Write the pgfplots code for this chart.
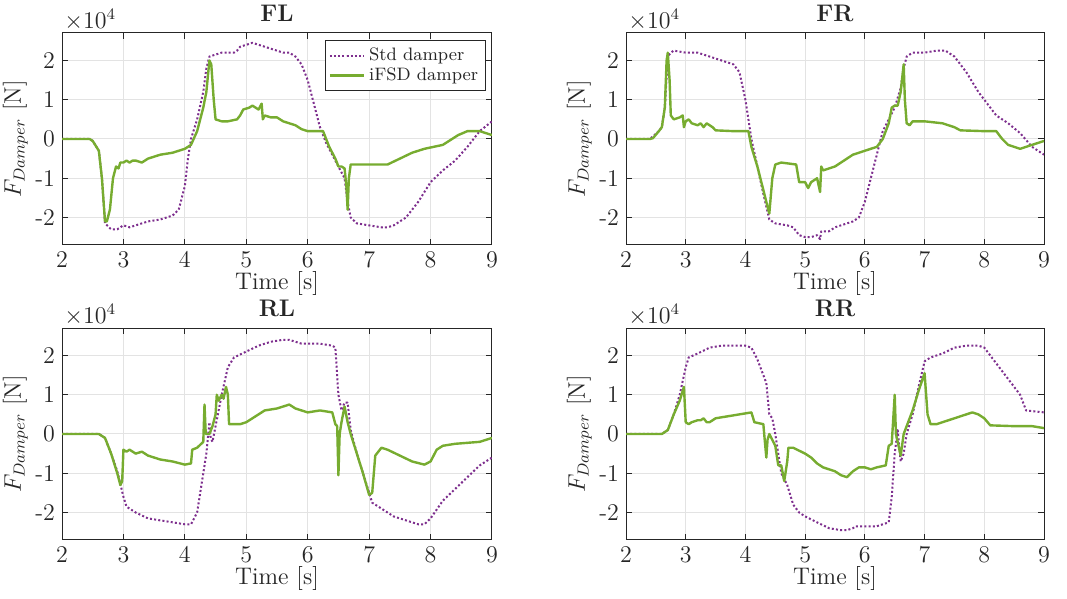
\documentclass[border=0pt]{standalone}
\usepackage{pgfplots}
\pgfplotsset{compat=1.18}
\definecolor{mpurple}{HTML}{7E2F8E}
\definecolor{mgreen}{HTML}{77AC30}
\definecolor{gridc}{HTML}{E3E3E3}
\definecolor{axc}{HTML}{262626}
\pgfplotsset{
  dstyle/.style={
    scale only axis, anchor=north west, height=106pt,
    xmin=2, xmax=9, ymin=-2.7, ymax=2.7,
    xtick={2,3,4,5,6,7,8,9},
    ytick={-2,-1,0,1,2}, yticklabels={{-2},{-1},0,1,2},
    grid=major, major grid style={gridc, line width=0.5pt},
    axis line style={axc, line width=0.5pt},
    tick style={axc, line width=0.5pt},
    tick align=inside, major tick length=3pt,
    ticklabel style={text=axc, font=\large},
    xlabel={Time [s]}, ylabel={$F_{Damper}$ [N]},
    label style={font=\large},
    xlabel style={text=axc, yshift=5pt},
    ylabel style={text=axc, yshift=-3pt},
    title style={text=axc, font=\large\bfseries, yshift=-4pt},
    clip mode=individual,
  },
  stdp/.style={mpurple, line width=1pt, dash pattern=on 1pt off 1.1pt, line join=round},
  ifsd/.style={mgreen, line width=1.2pt, line join=round},
}
\newcommand{\xten}{\node[anchor=south west, text=axc, inner sep=1pt, font=\large] at (rel axis cs:0,1) {$\times10^4$};}
\begin{document}
\begin{tikzpicture}
% ---------------- FL ----------------
\begin{axis}[dstyle, at={(31pt,-16.5pt)}, width=215pt, title={FL},
  legend style={at={(rel axis cs:0.985,0.965)}, anchor=north east, draw=axc, font=\small, text=axc, row sep=-2pt, inner sep=1.5pt},
  legend cell align=left]
\addplot[stdp] coordinates {
(2,0)(2.45,0)(2.5,-0.05)(2.6,-0.3)(2.65,-1.0)(2.7,-2.15)(2.8,-2.3)(2.9,-2.3)(3.0,-2.2)(3.1,-2.25)(3.2,-2.2)(3.4,-2.1)(3.6,-2.05)(3.8,-1.95)(3.9,-1.8)(4.0,-1.2)(4.05,-0.5)(4.1,0.0)(4.2,0.5)(4.3,1.2)(4.35,1.8)(4.4,2.1)(4.5,2.15)(4.6,2.2)(4.8,2.2)(4.85,2.25)(4.9,2.35)(5.0,2.4)(5.1,2.45)(5.2,2.4)(5.3,2.35)(5.4,2.3)(5.5,2.25)(5.6,2.2)(5.7,2.2)(5.8,2.1)(5.9,1.9)(6.0,1.5)(6.1,0.9)(6.2,0.3)(6.3,-0.1)(6.4,-0.4)(6.5,-0.7)(6.6,-1.0)(6.65,-1.6)(6.7,-2.0)(6.8,-2.15)(7.0,-2.2)(7.2,-2.25)(7.3,-2.25)(7.4,-2.2)(7.6,-2.0)(7.8,-1.6)(8.0,-1.1)(8.2,-0.8)(8.4,-0.55)(8.6,-0.2)(8.8,0.2)(9.0,0.45)};
\addlegendentry{Std damper}
\addplot[ifsd] coordinates {
(2,0)(2.45,0)(2.5,-0.05)(2.6,-0.3)(2.65,-1.0)(2.7,-2.1)(2.73,-2.1)(2.78,-1.8)(2.83,-1.0)(2.88,-0.7)(2.92,-0.75)(2.95,-0.6)(3.0,-0.6)(3.05,-0.55)(3.1,-0.6)(3.15,-0.55)(3.2,-0.55)(3.3,-0.6)(3.4,-0.5)(3.5,-0.45)(3.6,-0.4)(3.8,-0.35)(4.0,-0.25)(4.1,-0.15)(4.2,0.2)(4.3,0.8)(4.35,1.2)(4.4,2.0)(4.43,1.9)(4.47,1.0)(4.5,0.5)(4.6,0.45)(4.7,0.45)(4.85,0.5)(4.9,0.6)(4.95,0.75)(5.05,0.8)(5.1,0.85)(5.2,0.75)(5.25,0.9)(5.27,0.5)(5.3,0.6)(5.4,0.55)(5.5,0.55)(5.6,0.45)(5.7,0.4)(5.8,0.35)(5.9,0.25)(6.0,0.2)(6.25,0.2)(6.35,-0.2)(6.45,-0.5)(6.5,-0.7)(6.55,-0.7)(6.6,-0.75)(6.63,-1.2)(6.65,-1.8)(6.67,-1.0)(6.7,-0.65)(6.8,-0.65)(7.0,-0.65)(7.3,-0.65)(7.5,-0.5)(7.7,-0.35)(7.9,-0.25)(8.2,-0.15)(8.3,-0.05)(8.45,0.1)(8.6,0.2)(8.8,0.2)(9.0,0.1)};
\addlegendentry{iFSD damper}
\xten
\end{axis}
% ---------------- FR ----------------
\begin{axis}[dstyle, at={(313pt,-16.5pt)}, width=209pt, title={FR}]
\addplot[stdp] coordinates {
(2,0)(2.4,0)(2.55,0.2)(2.6,0.3)(2.65,0.8)(2.7,2.1)(2.75,2.2)(2.8,2.25)(3.0,2.2)(3.2,2.2)(3.3,2.15)(3.4,2.1)(3.6,2.0)(3.8,1.9)(3.9,1.7)(4.0,1.0)(4.1,0.0)(4.2,-0.7)(4.3,-1.4)(4.4,-2.05)(4.5,-2.15)(4.7,-2.2)(4.8,-2.25)(4.9,-2.45)(5.0,-2.5)(5.1,-2.5)(5.2,-2.45)(5.25,-2.55)(5.27,-2.35)(5.4,-2.35)(5.5,-2.25)(5.6,-2.2)(5.8,-2.1)(5.9,-2.0)(6.0,-1.6)(6.1,-1.0)(6.2,-0.4)(6.3,0.2)(6.4,0.5)(6.5,0.8)(6.6,1.3)(6.65,1.8)(6.7,2.1)(6.8,2.2)(7.0,2.2)(7.2,2.25)(7.35,2.25)(7.5,2.1)(7.7,1.7)(7.9,1.2)(8.1,0.8)(8.2,0.6)(8.4,0.4)(8.6,0.15)(8.8,-0.2)(9.0,-0.4)};
\addplot[ifsd] coordinates {
(2,0)(2.4,0)(2.45,0.02)(2.55,0.2)(2.6,0.3)(2.65,0.8)(2.68,2.0)(2.7,2.2)(2.73,1.5)(2.75,0.6)(2.8,0.5)(2.9,0.55)(2.95,0.6)(2.97,0.3)(3.0,0.45)(3.05,0.5)(3.1,0.4)(3.2,0.35)(3.25,0.4)(3.3,0.3)(3.35,0.4)(3.45,0.3)(3.5,0.22)(3.8,0.2)(4.05,0.2)(4.1,-0.2)(4.2,-0.7)(4.3,-1.3)(4.4,-1.9)(4.45,-1.0)(4.5,-0.65)(4.6,-0.6)(4.85,-0.65)(4.9,-1.1)(5.0,-1.1)(5.05,-1.25)(5.1,-1.1)(5.2,-1.0)(5.25,-1.35)(5.27,-0.7)(5.3,-0.8)(5.4,-0.75)(5.5,-0.7)(5.6,-0.6)(5.7,-0.5)(5.8,-0.4)(5.9,-0.35)(6.0,-0.3)(6.2,-0.2)(6.3,0.0)(6.4,0.4)(6.45,0.8)(6.5,0.85)(6.55,0.85)(6.6,1.2)(6.65,1.9)(6.67,1.0)(6.7,0.4)(6.75,0.35)(6.8,0.45)(7.0,0.45)(7.3,0.4)(7.5,0.3)(7.6,0.22)(8.0,0.2)(8.2,0.2)(8.3,0.0)(8.4,-0.15)(8.6,-0.25)(8.8,-0.15)(9.0,-0.05)};
\xten
\end{axis}
% ---------------- RL ----------------
\begin{axis}[dstyle, at={(31pt,-164pt)}, width=215pt, title={RL}]
\addplot[stdp] coordinates {
(2,0)(2.6,0)(2.7,-0.1)(2.8,-0.5)(2.9,-0.95)(3.0,-1.6)(3.05,-1.85)(3.2,-2.0)(3.4,-2.15)(3.6,-2.2)(3.8,-2.25)(4.0,-2.3)(4.1,-2.3)(4.2,-2.0)(4.25,-1.5)(4.3,-1.0)(4.35,-0.5)(4.4,0.3)(4.42,-0.1)(4.45,-0.2)(4.5,0.2)(4.6,1.0)(4.7,1.7)(4.8,1.95)(5.0,2.1)(5.2,2.25)(5.4,2.35)(5.6,2.4)(5.7,2.4)(5.9,2.3)(6.0,2.3)(6.2,2.3)(6.4,2.25)(6.45,2.2)(6.5,1.0)(6.55,0.6)(6.6,0.8)(6.65,0.8)(6.7,0.1)(6.8,-0.5)(6.9,-1.0)(7.0,-1.5)(7.05,-1.75)(7.2,-1.9)(7.4,-2.1)(7.6,-2.2)(7.8,-2.3)(7.9,-2.3)(8.0,-2.15)(8.2,-1.7)(8.4,-1.4)(8.6,-1.1)(8.8,-0.8)(9.0,-0.6)};
\addplot[ifsd] coordinates {
(2,0)(2.6,0)(2.7,-0.1)(2.8,-0.5)(2.9,-1.0)(2.95,-1.3)(2.98,-1.2)(3.0,-0.4)(3.05,-0.45)(3.1,-0.4)(3.2,-0.5)(3.3,-0.45)(3.4,-0.55)(3.6,-0.65)(3.8,-0.7)(4.0,-0.78)(4.1,-0.75)(4.12,-0.4)(4.2,-0.35)(4.3,-0.2)(4.32,0.75)(4.34,0.0)(4.4,0.0)(4.45,0.2)(4.5,0.5)(4.52,1.0)(4.55,0.85)(4.6,1.0)(4.63,0.9)(4.67,1.2)(4.7,1.0)(4.72,0.25)(4.9,0.25)(5.0,0.3)(5.2,0.5)(5.3,0.6)(5.5,0.65)(5.7,0.75)(5.8,0.65)(5.9,0.6)(6.0,0.55)(6.2,0.6)(6.4,0.55)(6.45,0.25)(6.48,0.2)(6.5,-1.05)(6.52,0.0)(6.55,0.3)(6.6,0.7)(6.65,0.3)(6.7,0.0)(6.8,-0.5)(6.9,-1.0)(7.0,-1.55)(7.05,-1.5)(7.1,-0.55)(7.2,-0.35)(7.3,-0.4)(7.5,-0.55)(7.7,-0.7)(7.9,-0.78)(8.0,-0.7)(8.1,-0.4)(8.2,-0.3)(8.4,-0.25)(8.8,-0.2)(9.0,-0.1)};
\xten
\end{axis}
% ---------------- RR ----------------
\begin{axis}[dstyle, at={(313pt,-164pt)}, width=209pt, title={RR}]
\addplot[stdp] coordinates {
(2,0)(2.6,0)(2.7,0.1)(2.8,0.5)(2.9,1.0)(3.0,1.7)(3.05,1.95)(3.2,2.05)(3.4,2.2)(3.6,2.25)(3.8,2.25)(4.0,2.25)(4.1,2.2)(4.2,1.9)(4.3,1.5)(4.35,1.3)(4.4,0.5)(4.45,0.4)(4.5,0.0)(4.55,-0.5)(4.6,-1.0)(4.7,-1.3)(4.8,-1.8)(4.9,-2.0)(5.0,-2.1)(5.2,-2.25)(5.4,-2.4)(5.6,-2.45)(5.7,-2.45)(5.8,-2.4)(5.85,-2.35)(6.0,-2.35)(6.2,-2.35)(6.4,-2.25)(6.45,-1.6)(6.5,-0.5)(6.55,0.1)(6.6,-0.7)(6.65,-0.5)(6.7,0.0)(6.8,0.5)(6.9,1.2)(7.0,1.85)(7.1,1.95)(7.3,2.05)(7.5,2.2)(7.7,2.25)(7.9,2.25)(8.0,2.2)(8.2,1.8)(8.4,1.4)(8.6,1.0)(8.7,0.6)(9.0,0.55)};
\addplot[ifsd] coordinates {
(2,0)(2.6,0)(2.7,0.1)(2.8,0.5)(2.9,0.85)(2.97,1.2)(3.0,0.3)(3.05,0.25)(3.1,0.3)(3.2,0.35)(3.25,0.35)(3.3,0.4)(3.35,0.3)(3.4,0.3)(3.5,0.4)(3.7,0.45)(3.9,0.5)(4.1,0.55)(4.15,0.3)(4.3,0.25)(4.32,-0.1)(4.35,-0.6)(4.37,-0.15)(4.4,0.0)(4.45,-0.15)(4.5,-0.3)(4.55,-0.8)(4.6,-0.8)(4.65,-1.2)(4.7,-0.7)(4.72,-0.35)(4.8,-0.35)(5.0,-0.5)(5.1,-0.6)(5.2,-0.75)(5.3,-0.85)(5.5,-0.95)(5.6,-1.05)(5.7,-1.1)(5.8,-0.95)(5.9,-0.85)(6.0,-0.85)(6.1,-0.9)(6.2,-0.85)(6.35,-0.8)(6.4,-0.3)(6.45,-0.25)(6.5,1.0)(6.52,0.0)(6.55,-0.2)(6.6,-0.55)(6.65,0.0)(6.7,0.2)(6.8,0.6)(6.9,1.1)(7.0,1.55)(7.05,0.5)(7.1,0.25)(7.2,0.25)(7.4,0.35)(7.6,0.45)(7.8,0.55)(7.9,0.5)(8.0,0.4)(8.1,0.22)(8.5,0.2)(8.8,0.2)(9.0,0.15)};
\xten
\end{axis}
\pgfresetboundingbox
\path[use as bounding box] (0,0) rectangle (533.5pt,-299.5pt);
\end{tikzpicture}
\end{document}
